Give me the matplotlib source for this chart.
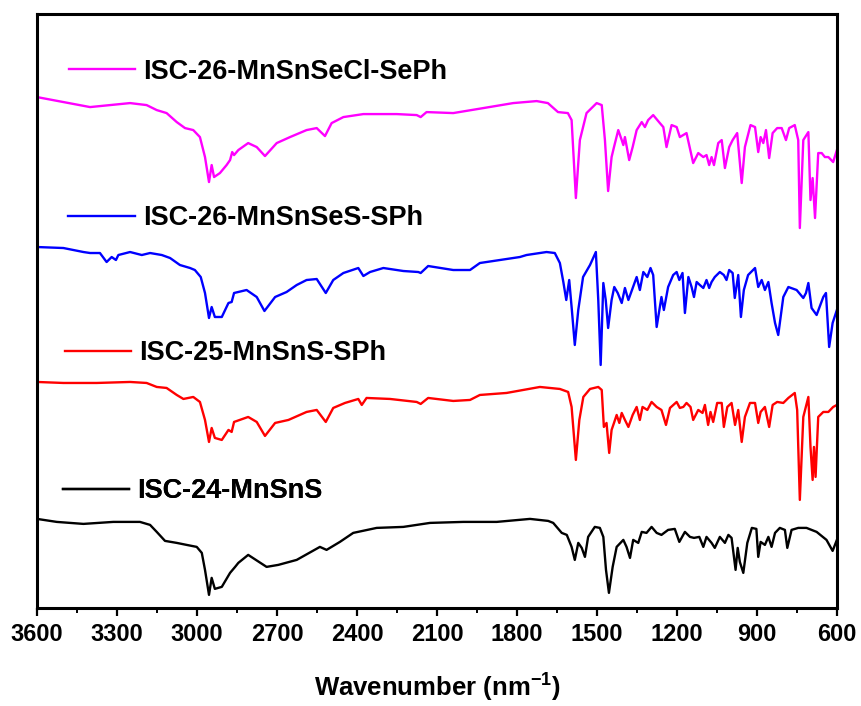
import matplotlib
matplotlib.use("Agg")
import matplotlib.pyplot as plt
from matplotlib.ticker import MultipleLocator

# FT-IR spectra, stacked with vertical offsets (arbitrary units)
labels = ["ISC-26-MnSnSeCl-SePh", "ISC-26-MnSnSeS-SPh", "ISC-25-MnSnS-SPh", "ISC-24-MnSnS"]
colors = ["#FF00FF", "#0000FF", "#FF0000", "#000000"]

secl_wn = [3600, 3401, 3251, 3189, 3151, 3114, 3076, 3045, 3014, 2989,
           2970, 2955, 2945, 2936, 2914, 2889, 2876, 2868, 2861, 2845,
           2808, 2776, 2745, 2701, 2651, 2589, 2551, 2520, 2495, 2451,
           2376, 2251, 2176, 2161, 2139, 2039, 1926, 1814, 1726, 1684,
           1646, 1609, 1595, 1579, 1564, 1539, 1501, 1482, 1470, 1458,
           1445, 1436, 1420, 1407, 1401, 1395, 1379, 1366, 1351, 1332,
           1320, 1308, 1289, 1264, 1251, 1239, 1220, 1201, 1189, 1164,
           1139, 1120, 1101, 1089, 1079, 1070, 1061, 1045, 1032, 1020,
           1004, 991, 974, 957, 945, 924, 907, 895, 886, 876,
           866, 854, 841, 824, 807, 791, 779, 758, 745, 739,
           726, 707, 699, 691, 682, 670, 657, 645, 632, 614,
           600]
secl_int = [511, 501, 505, 503, 498, 495, 486, 480, 478, 471,
            451, 426, 443, 431, 435, 443, 448, 456, 453, 458,
            465, 461, 452, 465, 471, 478, 480, 472, 485, 491,
            494, 494, 493, 491, 496, 495, 500, 505, 507, 505,
            496, 495, 488, 410, 468, 495, 505, 503, 468, 417,
            451, 461, 478, 468, 463, 471, 448, 461, 478, 486,
            481, 488, 493, 485, 481, 461, 483, 481, 471, 475,
            445, 455, 451, 453, 443, 451, 443, 465, 468, 440,
            461, 468, 475, 425, 461, 483, 481, 456, 471, 465,
            478, 450, 475, 480, 480, 468, 480, 483, 468, 380,
            468, 476, 408, 430, 390, 455, 455, 451, 451, 446,
            458]

ses_wn = [3600, 3501, 3426, 3401, 3364, 3339, 3320, 3304, 3295, 3251,
          3207, 3176, 3132, 3101, 3064, 3026, 3008, 2986, 2970, 2955,
          2945, 2933, 2907, 2882, 2870, 2861, 2814, 2776, 2747, 2707,
          2664, 2626, 2589, 2551, 2517, 2489, 2451, 2395, 2376, 2351,
          2301, 2226, 2170, 2161, 2133, 2039, 1976, 1939, 1864, 1789,
          1764, 1689, 1658, 1639, 1626, 1615, 1604, 1594, 1583, 1570,
          1552, 1526, 1504, 1495, 1486, 1476, 1467, 1458, 1445, 1435,
          1422, 1407, 1395, 1382, 1366, 1351, 1339, 1326, 1311, 1299,
          1289, 1276, 1258, 1249, 1233, 1214, 1201, 1191, 1179, 1170,
          1157, 1145, 1136, 1126, 1114, 1101, 1089, 1079, 1070, 1058,
          1039, 1024, 1014, 1004, 991, 983, 970, 960, 949, 933,
          907, 895, 882, 870, 857, 845, 832, 820, 801, 782,
          751, 726, 716, 707, 695, 676, 651, 641, 629, 616,
          600]
ses_int = [361, 360, 356, 355, 355, 346, 351, 348, 353, 356,
           353, 355, 353, 350, 343, 340, 338, 331, 315, 290,
           301, 291, 291, 305, 306, 315, 318, 311, 297, 311,
           316, 323, 328, 329, 315, 328, 335, 340, 332, 336,
           340, 337, 336, 335, 342, 338, 338, 345, 348, 351,
           353, 356, 355, 345, 326, 308, 328, 298, 263, 298,
           331, 343, 356, 308, 243, 325, 308, 280, 308, 321,
           315, 305, 320, 308, 320, 331, 318, 336, 331, 340,
           333, 281, 311, 298, 321, 333, 336, 328, 335, 295,
           331, 321, 311, 326, 323, 320, 328, 320, 326, 331,
           336, 333, 328, 338, 335, 310, 333, 291, 318, 333,
           340, 321, 328, 318, 326, 305, 285, 273, 311, 321,
           318, 310, 315, 325, 300, 293, 311, 315, 261, 285,
           298]

sph_wn = [3600, 3501, 3376, 3251, 3189, 3151, 3114, 3076, 3051, 3014,
          2989, 2970, 2955, 2945, 2933, 2907, 2882, 2870, 2861, 2808,
          2776, 2745, 2707, 2657, 2589, 2551, 2517, 2489, 2445, 2395,
          2382, 2364, 2276, 2176, 2161, 2133, 2039, 1976, 1939, 1839,
          1714, 1639, 1608, 1595, 1579, 1566, 1551, 1526, 1495, 1482,
          1474, 1464, 1454, 1445, 1436, 1426, 1416, 1407, 1395, 1382,
          1366, 1351, 1339, 1329, 1311, 1295, 1276, 1258, 1241, 1226,
          1201, 1189, 1176, 1164, 1149, 1139, 1120, 1104, 1095, 1083,
          1074, 1064, 1049, 1032, 1024, 1011, 995, 982, 970, 957,
          945, 926, 907, 895, 886, 870, 854, 841, 824, 801,
          782, 758, 749, 739, 726, 707, 699, 691, 686, 680,
          670, 651, 632, 614, 600]
sph_int = [226, 225, 225, 226, 225, 221, 220, 213, 209, 211,
           206, 188, 166, 180, 170, 168, 178, 176, 186, 191,
           186, 172, 185, 188, 196, 198, 186, 200, 205, 209,
           203, 210, 209, 206, 204, 210, 207, 208, 213, 215,
           221, 219, 216, 201, 148, 188, 211, 219, 221, 218,
           181, 185, 155, 178, 185, 193, 185, 195, 188, 181,
           193, 201, 188, 201, 198, 206, 201, 198, 183, 200,
           206, 200, 201, 205, 201, 188, 198, 195, 203, 183,
           196, 186, 205, 205, 181, 201, 205, 183, 198, 166,
           191, 205, 205, 185, 196, 201, 181, 203, 206, 205,
           210, 215, 198, 108, 191, 211, 161, 128, 161, 131,
           191, 196, 196, 201, 203]

mns_wn = [3600, 3526, 3426, 3314, 3214, 3176, 3151, 3120, 3076, 3039,
          3001, 2982, 2970, 2955, 2945, 2933, 2907, 2876, 2857, 2845,
          2808, 2739, 2695, 2626, 2539, 2514, 2464, 2414, 2326, 2226,
          2126, 2001, 1876, 1751, 1683, 1664, 1632, 1613, 1595, 1583,
          1570, 1557, 1545, 1533, 1508, 1489, 1476, 1466, 1455, 1441,
          1426, 1401, 1389, 1376, 1364, 1345, 1332, 1314, 1295, 1276,
          1258, 1233, 1208, 1191, 1170, 1151, 1136, 1116, 1101, 1089,
          1070, 1058, 1039, 1020, 1007, 995, 980, 972, 964, 951,
          936, 919, 902, 895, 886, 870, 857, 845, 832, 814,
          795, 786, 770, 745, 714, 676, 639, 616, 600]
mns_int = [89, 86, 84, 86, 86, 83, 76, 67, 65, 63,
           61, 55, 38, 13, 30, 19, 21, 35, 41, 45,
           53, 41, 43, 48, 61, 58, 66, 75, 80, 81,
           85, 86, 86, 89, 87, 85, 75, 73, 61, 48,
           65, 60, 51, 71, 81, 80, 71, 38, 15, 41,
           61, 68, 61, 50, 68, 65, 76, 75, 81, 75,
           73, 78, 79, 66, 76, 71, 70, 71, 61, 71,
           65, 60, 71, 65, 73, 70, 38, 60, 46, 35,
           65, 80, 79, 51, 66, 63, 71, 61, 75, 80,
           78, 60, 78, 80, 80, 76, 68, 57, 68]

spectra = [(secl_wn, secl_int), (ses_wn, ses_int), (sph_wn, sph_int), (mns_wn, mns_int)]
# where each little legend sits (axes fraction, left edge / vertical centre)
legend_pos = [(0.040, 0.903), (0.039, 0.656), (0.035, 0.429), (0.0325, 0.196)]

sans = ["Liberation Sans", "DejaVu Sans"]
plt.rcParams["mathtext.fontset"] = "custom"
plt.rcParams["mathtext.rm"] = "Liberation Sans:bold"
plt.rcParams["mathtext.bf"] = "Liberation Sans:bold"

fig = plt.figure(figsize=(8.61, 7.06), dpi=100)
ax = fig.add_axes([0.043, 0.139, 0.929, 0.841])

lines = []
for (wn, val), c in zip(spectra, colors):
    ln, = ax.plot(wn, val, color=c, lw=1.7, solid_joinstyle="round")
    lines.append(ln)

for ln, lab, (lx, ly) in zip(lines, labels, legend_pos):
    leg = ax.legend([ln], [lab], loc="center left", bbox_to_anchor=(lx, ly),
                    frameon=False, borderpad=0, borderaxespad=0,
                    handlelength=2.45, handletextpad=0.3,
                    prop={"family": sans, "weight": "bold", "size": 19.5})
    ax.add_artist(leg)

ax.set_xlim(3600, 600)
ax.set_ylim(0, 594)
ax.xaxis.set_major_locator(MultipleLocator(300))
ax.xaxis.set_minor_locator(MultipleLocator(150))
ax.set_yticks([])
ax.tick_params(axis="x", which="major", direction="out", length=6, width=1.6, pad=5)
ax.tick_params(axis="x", which="minor", direction="out", length=3.5, width=1.4)
for lbl in ax.get_xticklabels():
    lbl.set_family(sans)
    lbl.set_fontweight("bold")
    lbl.set_fontsize(17)
for s in ax.spines.values():
    s.set_linewidth(2.2)

ax.set_xlabel(r"Wavenumber (nm$^{\mathbf{-1}}$)", family=sans, fontweight="bold",
              fontsize=18.5, labelpad=17)

fig.savefig("out.png", dpi=100)
